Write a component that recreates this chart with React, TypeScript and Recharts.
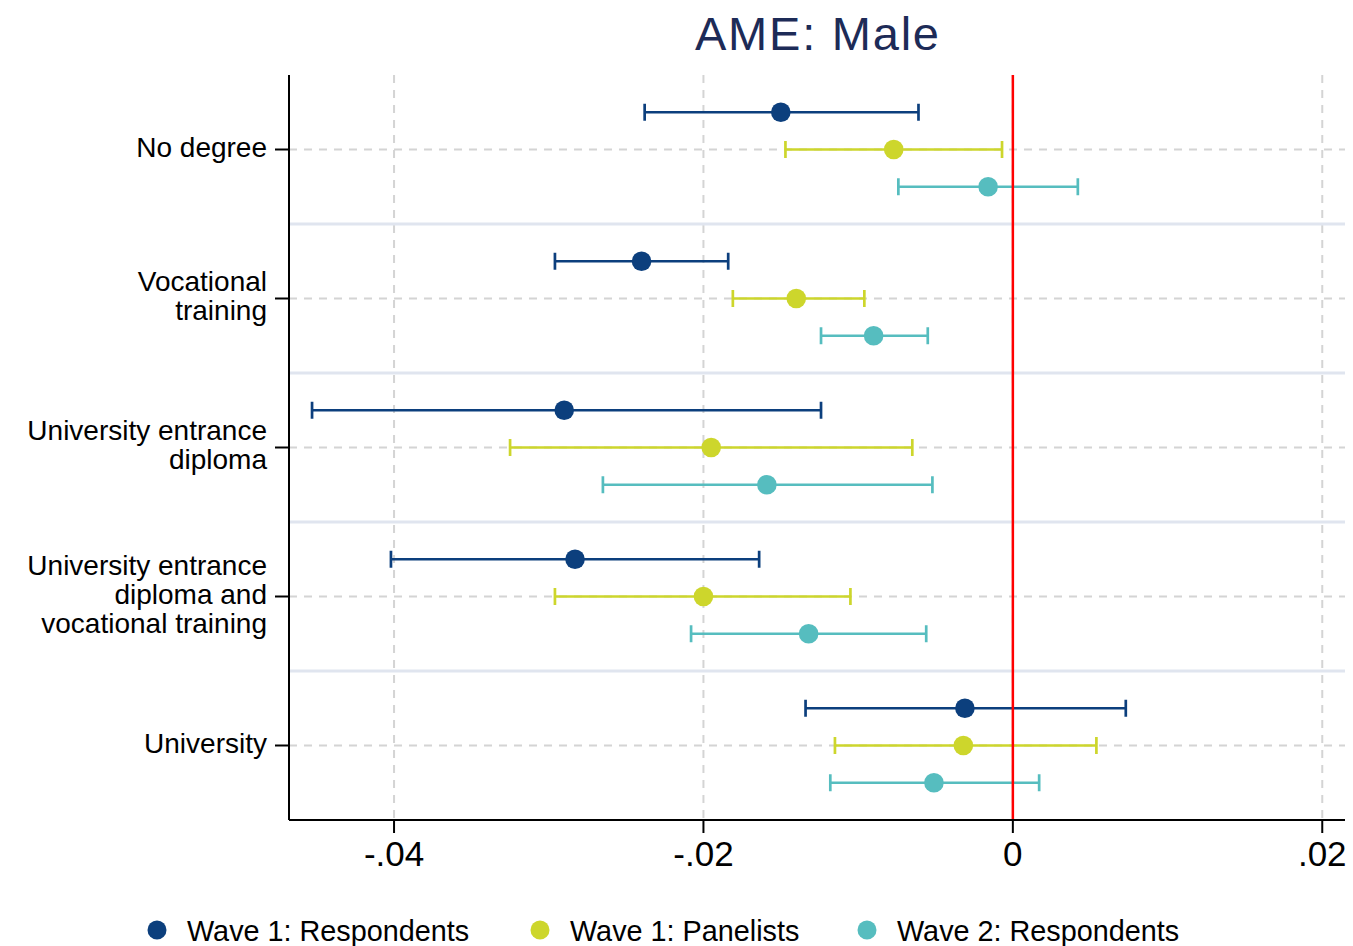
import React from 'react';
import { ScatterChart, Scatter, XAxis, YAxis, CartesianGrid, ReferenceLine, ErrorBar } from 'recharts';

const categories = [
  'No degree',
  'Vocational\ntraining',
  'University entrance\ndiploma',
  'University entrance\ndiploma and\nvocational training',
  'University',
];

const seriesNames = ['Wave 1: Respondents', 'Wave 1: Panelists', 'Wave 2: Respondents'];
const seriesColors = ['#0c3f7d', '#cdd62c', '#56bdbf'];

const w1RespEst = [-0.0150, -0.0240, -0.0290, -0.0283, -0.0031];
const w1RespLow = [-0.0238, -0.0296, -0.0453, -0.0402, -0.0134];
const w1RespHigh = [-0.0061, -0.0184, -0.0124, -0.0164, 0.0073];

const w1PanelEst = [-0.0077, -0.0140, -0.0195, -0.0200, -0.0032];
const w1PanelLow = [-0.0147, -0.0181, -0.0325, -0.0296, -0.0115];
const w1PanelHigh = [-0.0007, -0.0096, -0.0065, -0.0105, 0.0054];

const w2RespEst = [-0.0016, -0.0090, -0.0159, -0.0132, -0.0051];
const w2RespLow = [-0.0074, -0.0124, -0.0265, -0.0208, -0.0118];
const w2RespHigh = [0.0042, -0.0055, -0.0052, -0.0056, 0.0017];

const xTicks = [-0.04, -0.02, 0, 0.02];
const yTicks = [0, 1, 2, 3, 4];
const separators = [0.5, 1.5, 2.5, 3.5];
const rowOffsets = [-0.25, 0, 0.25];

const FONT = '"Liberation Sans", Arial, Helvetica, sans-serif';

function buildSeries(est: number[], low: number[], high: number[], offset: number) {
  return est.map((v, i) => ({ x: v, y: i + offset, err: [v - low[i], high[i] - v] }));
}

const seriesData = [
  buildSeries(w1RespEst, w1RespLow, w1RespHigh, rowOffsets[0]),
  buildSeries(w1PanelEst, w1PanelLow, w1PanelHigh, rowOffsets[1]),
  buildSeries(w2RespEst, w2RespLow, w2RespHigh, rowOffsets[2]),
];

function fmtX(v: number) {
  if (v === 0) return '0';
  const s = Math.abs(v).toFixed(2).replace(/^0/, '');
  return (v < 0 ? '-' : '') + s;
}

function YTick(props: any) {
  const { x, y, payload } = props;
  const lines = categories[payload.value].split('\n');
  const lh = 29;
  const first = y - ((lines.length - 1) * lh) / 2 + 7;
  return (
    <text x={x} y={first} textAnchor="end" fontSize={28} fontFamily={FONT} fill="#000">
      {lines.map((l: string, i: number) => (
        <tspan key={i} x={x} y={first + i * lh}>{l}</tspan>
      ))}
    </text>
  );
}

function makeDot(color: string) {
  return (props: any) => <circle cx={props.cx} cy={props.cy} r={9.8} fill={color} />;
}

export default function App() {
  return (
    <div style={{ position: 'absolute', left: 0, top: 0, width: 1353, height: 946, background: '#fff' }}>
      <ScatterChart width={1353} height={946} margin={{ top: 75, right: 8, bottom: 66, left: 0 }}>
        <CartesianGrid strokeDasharray="8 7" stroke="#d4d4d4" strokeWidth={2} syncWithTicks />
        <XAxis
          type="number"
          dataKey="x"
          domain={[-0.04679, 0.02147]}
          allowDataOverflow
          ticks={xTicks}
          tickFormatter={fmtX}
          tickSize={13}
          tickMargin={8}
          height={60}
          tick={{ fontSize: 35, fill: '#000', fontFamily: FONT }}
          axisLine={{ stroke: '#000', strokeWidth: 2 }}
          tickLine={{ stroke: '#000', strokeWidth: 2 }}
        />
        <YAxis
          type="number"
          dataKey="y"
          domain={[-0.5, 4.5]}
          allowDataOverflow
          reversed
          ticks={yTicks}
          interval={0}
          width={289}
          tickSize={14}
          tickMargin={8}
          tick={<YTick />}
          axisLine={{ stroke: '#000', strokeWidth: 2 }}
          tickLine={{ stroke: '#000', strokeWidth: 2 }}
        />
        {separators.map((s) => (
          <ReferenceLine key={s} y={s} stroke="#e0e5ef" strokeWidth={3} />
        ))}
        {seriesData.map((d, si) => (
          <Scatter
            key={si}
            name={seriesNames[si]}
            data={d}
            fill={seriesColors[si]}
            shape={makeDot(seriesColors[si])}
            isAnimationActive={false}
          >
            <ErrorBar dataKey="err" direction="x" width={8.5} stroke={seriesColors[si]} strokeWidth={2.7} isAnimationActive={false} />
          </Scatter>
        ))}
        <ReferenceLine x={0} stroke="#ff0000" strokeWidth={2.5} />
      </ScatterChart>
      <svg width={1353} height={946} style={{ position: 'absolute', left: 0, top: 0, pointerEvents: 'none' }}>
        <text x={817} y={50} textAnchor="middle" fontSize={47} fontFamily={FONT} fill="#1d2b57" textLength={244} lengthAdjust="spacing">
          AME: Male
        </text>
        {seriesNames.map((n, i) => {
          const xs = [157, 540, 867];
          return (
            <g key={n}>
              <circle cx={xs[i]} cy={930} r={9.5} fill={seriesColors[i]} />
              <text x={xs[i] + 30} y={941} fontSize={28.8} fontFamily={FONT} fill="#000">{n}</text>
            </g>
          );
        })}
      </svg>
    </div>
  );
}
